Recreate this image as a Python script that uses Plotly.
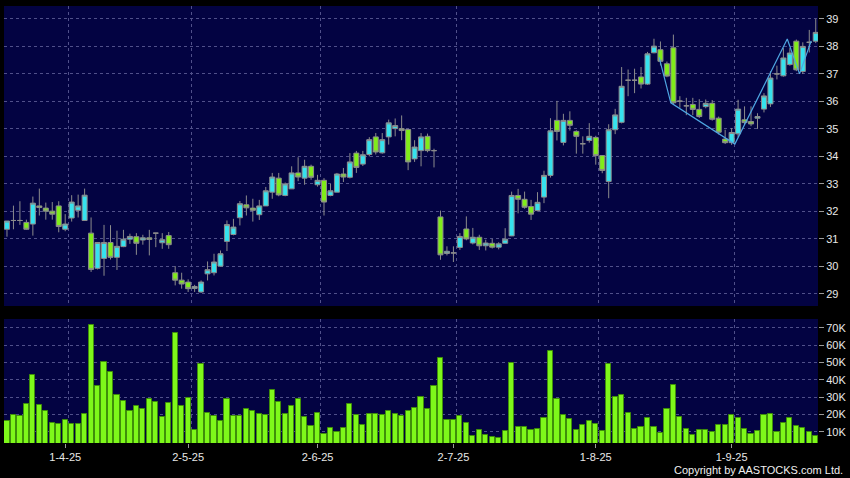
import plotly.graph_objects as go
import pandas as pd

# ---------------- data ----------------
hk_holidays = ["2025-04-04", "2025-04-18", "2025-04-21", "2025-05-01", "2025-05-05", "2025-07-01"]
dates = [d.strftime("%Y-%m-%d") for d in
         pd.bdate_range("2025-03-19", "2025-09-18", freq="C", holidays=hk_holidays)]

tick_dates = ["2025-04-01", "2025-05-02", "2025-06-02", "2025-07-02", "2025-08-01", "2025-09-01"]
tick_labels = ["1-4-25", "2-5-25", "2-6-25", "2-7-25", "1-8-25", "1-9-25"]

opens = [31.35, 31.67, 31.67, 31.60, 31.54, 32.20, 32.12, 32.01, 32.20, 31.35,
         31.76, 32.04, 31.67, 31.21, 29.93, 30.29, 30.87, 30.33, 30.72, 30.99,
         31.08, 30.96, 31.04, 31.21, 30.86, 31.12, 29.77, 29.50, 29.43, 29.20,
         29.07, 29.73, 29.77, 30.01, 30.91, 31.16, 31.77, 32.24, 32.12, 31.88,
         32.20, 32.70, 33.21, 32.58, 32.82, 33.40, 33.21, 33.64, 32.97, 33.13,
         32.58, 32.70, 33.36, 33.24, 34.12, 33.72, 34.07, 34.71, 34.13, 34.71,
         35.01, 35.01, 34.98, 33.91, 34.21, 34.73, 34.21, 31.80, 30.47, 30.49,
         30.69, 31.36, 30.85, 31.06, 30.75, 30.84, 30.70, 30.84, 31.11, 32.58,
         32.44, 32.18, 32.03, 32.52, 33.31, 35.31, 34.51, 35.31, 34.91, 34.46,
         34.58, 34.69, 34.03, 33.09, 34.97, 35.24, 36.77, 36.77, 36.89, 36.63,
         37.77, 37.88, 37.37, 37.95, 36.01, 35.84, 35.89, 35.71, 35.81, 35.93,
         35.39, 34.63, 34.50, 34.82, 35.33, 35.27, 35.39, 35.72, 35.91, 37.00,
         36.93, 37.34, 38.19, 37.09, 38.15, 38.19]
highs = [31.65, 32.21, 32.37, 31.70, 32.54, 32.83, 32.32, 32.34, 32.37, 31.90,
         32.59, 32.61, 32.83, 31.78, 30.87, 31.51, 31.50, 31.30, 31.33, 31.19,
         31.21, 31.15, 31.33, 31.21, 31.21, 31.25, 30.01, 29.77, 29.53, 29.33,
         29.49, 30.18, 30.46, 30.58, 31.67, 31.73, 32.38, 32.58, 32.46, 32.42,
         32.89, 33.40, 33.40, 33.05, 33.64, 33.97, 33.88, 33.70, 33.33, 33.21,
         33.00, 33.40, 33.58, 34.12, 34.20, 34.20, 34.70, 34.85, 34.85, 35.34,
         35.38, 35.49, 35.00, 34.59, 34.85, 34.83, 34.28, 32.03, 30.73, 30.73,
         31.21, 31.82, 31.40, 31.15, 30.97, 31.00, 30.88, 31.39, 32.72, 32.82,
         32.72, 32.42, 32.70, 33.48, 35.39, 36.02, 35.55, 35.64, 34.95, 34.73,
         35.21, 34.75, 34.05, 35.17, 35.73, 37.25, 37.16, 37.19, 37.25, 37.80,
         38.28, 38.18, 37.45, 38.43, 36.19, 36.13, 36.13, 36.08, 36.07, 36.05,
         35.45, 34.97, 35.03, 36.06, 35.82, 35.82, 35.57, 36.30, 37.10, 37.30,
         37.94, 37.94, 38.25, 38.15, 38.60, 39.00]
lows = [31.08, 31.35, 31.51, 31.33, 31.12, 31.85, 31.70, 31.70, 31.24, 31.28,
        31.63, 31.78, 31.67, 29.80, 29.89, 29.66, 30.25, 29.87, 30.70, 30.82,
        30.42, 30.79, 30.40, 30.70, 30.64, 30.64, 29.31, 29.19, 29.07, 29.07,
        29.04, 29.49, 29.67, 30.00, 30.56, 31.13, 31.49, 31.85, 31.63, 31.69,
        32.20, 32.46, 32.55, 32.55, 32.82, 33.10, 32.97, 33.15, 32.90, 31.85,
        32.55, 32.70, 33.07, 33.20, 33.40, 33.65, 34.00, 34.07, 34.10, 34.43,
        34.73, 34.59, 33.50, 33.80, 33.64, 34.15, 33.60, 30.24, 30.40, 30.16,
        30.60, 30.95, 30.80, 30.60, 30.58, 30.65, 30.62, 30.82, 31.10, 31.93,
        32.10, 31.69, 32.00, 32.30, 33.23, 34.58, 34.40, 34.94, 34.10, 34.10,
        34.50, 33.70, 33.39, 32.48, 34.81, 35.20, 36.19, 36.30, 36.47, 36.60,
        37.75, 37.31, 36.88, 35.90, 35.77, 35.50, 35.50, 35.40, 35.75, 35.30,
        34.80, 34.45, 34.42, 34.70, 35.15, 35.10, 35.00, 35.60, 35.80, 36.80,
        36.90, 37.30, 37.10, 37.00, 37.78, 38.12]
closes = [31.65, 31.67, 31.67, 31.35, 32.30, 32.14, 32.01, 31.90, 31.45, 31.54,
          32.34, 32.20, 32.59, 29.89, 30.87, 30.87, 30.33, 30.73, 30.99, 31.09,
          30.84, 31.04, 30.98, 31.21, 30.97, 30.79, 29.50, 29.36, 29.19, 29.27,
          29.43, 29.88, 30.16, 30.46, 31.52, 31.43, 32.28, 32.13, 32.04, 32.20,
          32.75, 33.25, 32.60, 33.00, 33.40, 33.25, 33.64, 33.24, 33.13, 32.34,
          32.75, 33.36, 33.25, 33.80, 33.60, 34.06, 34.61, 34.16, 34.61, 35.22,
          35.12, 34.94, 33.80, 34.34, 34.71, 34.21, 34.21, 30.42, 30.55, 30.49,
          31.09, 31.00, 31.06, 30.75, 30.85, 30.70, 30.82, 30.99, 32.58, 32.44,
          32.15, 31.90, 32.33, 33.31, 34.93, 34.91, 35.31, 35.13, 34.73, 34.46,
          34.73, 34.03, 33.49, 34.97, 35.51, 36.55, 36.77, 36.77, 36.63, 37.73,
          38.01, 37.46, 36.92, 35.95, 36.01, 35.84, 35.71, 35.45, 35.93, 35.35,
          34.88, 34.50, 34.87, 35.72, 35.23, 35.18, 35.45, 36.20, 36.85, 37.00,
          37.58, 37.76, 37.15, 38.00, 38.15, 38.51]
volumes_k = [16.4, 19.8, 19.2, 25.8, 43.1, 25.2, 21.9, 15.2, 14.4, 16.6,
             14.6, 14.6, 20.2, 71.8, 36.4, 50.3, 44.7, 31.4, 27.7, 21.9,
             24.8, 23.3, 28.7, 27.0, 18.5, 26.6, 67.0, 24.8, 29.5, 11.0,
             49.3, 21.0, 18.9, 16.2, 28.9, 19.4, 19.4, 22.9, 22.3, 20.2,
             19.8, 34.1, 27.0, 20.4, 25.0, 29.1, 18.5, 13.1, 20.8, 9.0,
             12.3, 10.0, 12.3, 26.2, 19.8, 14.2, 20.4, 20.4, 19.6, 21.9,
             20.4, 19.1, 22.1, 23.5, 30.0, 23.3, 36.6, 52.6, 16.9, 16.6,
             19.2, 15.0, 7.7, 11.2, 8.3, 6.9, 6.5, 10.6, 49.7, 12.7,
             12.7, 11.2, 11.7, 17.9, 56.6, 28.9, 19.8, 17.3, 11.0, 13.7,
             16.0, 14.4, 10.6, 49.3, 30.0, 31.4, 21.0, 11.5, 12.7, 18.1,
             12.7, 9.2, 23.1, 36.8, 18.5, 11.7, 8.1, 11.2, 10.8, 10.0,
             13.7, 14.2, 19.6, 17.9, 11.7, 8.7, 10.6, 19.8, 20.4, 10.0,
             15.0, 18.1, 13.1, 12.1, 9.8, 7.7]
volumes = [v * 1000 for v in volumes_k]

# zigzag overlay (bar-index position, price)
zigzag_pos = [100.8, 102.6, 112.5, 120.6, 122.5, 124.3]
zigzag_price = [37.6, 35.95, 34.45, 38.27, 37.0, 38.2]

vol_ticks = [10000, 20000, 30000, 40000, 50000, 60000, 70000]
vol_tick_labels = ["10K", "20K", "30K", "40K", "50K", "60K", "70K"]

# ---------------- styling ----------------
idx = list(range(len(dates)))
tick_pos = [dates.index(d) for d in tick_dates]
grid_pos = [p + 0.45 for p in tick_pos]   # vertical grid sits just right of the tick

BG = "#030342"
GRID = "#50508a"
CYAN = "#36e2ee"
LIME = "#80ec1a"
WICK = "#8c8c8c"
FONT = dict(family="Arial, Liberation Sans, sans-serif", size=11, color="#e8e8e8")
XR = [-0.46, 125.35]

fig = go.Figure()
fig.add_trace(go.Candlestick(
    x=idx, open=opens, high=highs, low=lows, close=closes,
    increasing=dict(fillcolor=CYAN, line=dict(color=WICK, width=1)),
    decreasing=dict(fillcolor=LIME, line=dict(color=WICK, width=1)),
    whiskerwidth=0, hovertext=dates, showlegend=False,
    xaxis="x", yaxis="y"))
fig.add_trace(go.Scatter(
    x=zigzag_pos, y=zigzag_price, mode="lines",
    line=dict(color="#4ea6e2", width=1.2), showlegend=False, hoverinfo="skip",
    xaxis="x", yaxis="y"))
fig.add_trace(go.Bar(
    x=idx, y=volumes, width=0.8,
    marker=dict(color="#7ef81a", line=dict(color="#3f8f0a", width=1)),
    hovertext=dates, showlegend=False, xaxis="x2", yaxis="y2"))

grid_style = dict(gridcolor=GRID, griddash="3px,3px", gridwidth=1)
axis_common = dict(zeroline=False, showline=False, tickfont=FONT)

fig.update_layout(
    width=850, height=478,
    margin=dict(l=4, r=32, t=6, b=35),
    paper_bgcolor="black", plot_bgcolor=BG,
    boxgap=0.12, boxgroupgap=0.12,
    xaxis=dict(domain=[0, 1], anchor="y", range=XR, tickvals=grid_pos,
               showticklabels=False, ticks="", showgrid=True,
               rangeslider=dict(visible=False), **grid_style, **axis_common),
    yaxis=dict(domain=[0.3135, 1], anchor="x", side="right", range=[28.56, 39.47],
               tickmode="linear", tick0=29, dtick=1, ticks="outside", ticklen=5,
               tickcolor="#9a9a9a", showgrid=True, **grid_style, **axis_common),
    xaxis2=dict(domain=[0, 1], anchor="y2", range=XR, tickvals=tick_pos,
                ticktext=tick_labels, ticks="outside", ticklen=4, tickcolor="#9a9a9a",
                showgrid=False,
                minor=dict(tickmode="array", tickvals=grid_pos, showgrid=True,
                           ticks="", **grid_style),
                **axis_common),
    yaxis2=dict(domain=[0, 0.2838], anchor="x2", side="right", range=[3500, 75200],
                tickvals=vol_ticks, ticktext=vol_tick_labels, ticks="outside",
                ticklen=5, tickcolor="#9a9a9a", showgrid=True, **grid_style,
                **axis_common),
    bargap=0,
    annotations=[dict(text="Copyright by AASTOCKS.com Ltd.", xref="paper", yref="paper",
                      x=1.033, y=-0.062, xanchor="right", yanchor="middle",
                      showarrow=False,
                      font=dict(family="Arial, Liberation Sans, sans-serif", size=11,
                                color="#f0f0f0"))],
)

fig.write_html(
    "out.html",
    config={"displayModeBar": False},
    post_script="document.body.style.margin='0';document.body.style.overflow='hidden';"
                "document.documentElement.style.overflow='hidden';",
)
